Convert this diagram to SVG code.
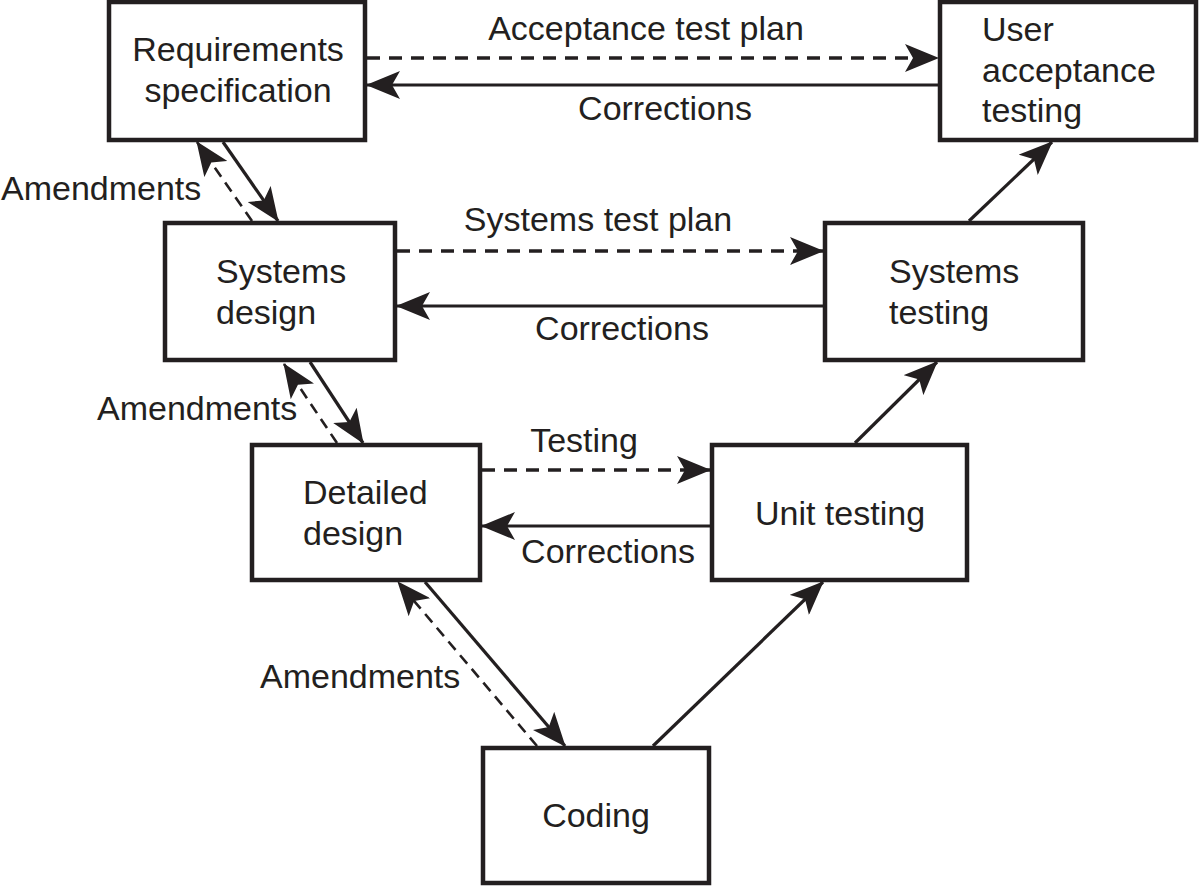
<svg xmlns="http://www.w3.org/2000/svg" width="1200" height="888" viewBox="0 0 1200 888">
<style>
.box{fill:#fff;stroke:#231f20;stroke-width:4.5}
.t{font-family:"Liberation Sans",Arial,sans-serif;font-size:34px;fill:#231f20}
.c{text-anchor:middle}
.solid{stroke:#231f20;stroke-width:3.2;fill:none}
.dash{stroke:#231f20;stroke-width:3.4;fill:none;stroke-dasharray:13 9}
.ddash{stroke:#231f20;stroke-width:2.6;fill:none;stroke-dasharray:11 7}
</style>
<defs>
<marker id="ah" markerUnits="userSpaceOnUse" viewBox="0 0 34 28" markerWidth="34" markerHeight="28" refX="33" refY="14" orient="auto">
<path d="M0,0 L34,14 L0,28 L8,14 Z" fill="#231f20"/>
</marker>
</defs>
<rect width="1200" height="888" fill="#fff"/>
<g id="req">
<rect class="box" x="109" y="2" width="256" height="138"/>
<text class="t c" x="238" y="61">Requirements</text>
<text class="t c" x="238" y="102">specification</text>
</g>
<g id="uat">
<rect class="box" x="940" y="2" width="256" height="138"/>
<text class="t" x="982" y="41">User</text>
<text class="t" x="982" y="82">acceptance</text>
<text class="t" x="982" y="122">testing</text>
</g>
<g id="sysdesign">
<rect class="box" x="165" y="223" width="230" height="137"/>
<text class="t" x="216" y="283">Systems</text>
<text class="t" x="216" y="324">design</text>
</g>
<g id="systest">
<rect class="box" x="825" y="223" width="258" height="137"/>
<text class="t" x="889" y="283">Systems</text>
<text class="t" x="889" y="324">testing</text>
</g>
<g id="detailed">
<rect class="box" x="252" y="445" width="228" height="135"/>
<text class="t" x="303" y="504">Detailed</text>
<text class="t" x="303" y="545">design</text>
</g>
<g id="unit">
<rect class="box" x="712" y="445" width="255" height="135"/>
<text class="t c" x="840" y="525">Unit testing</text>
</g>
<g id="coding">
<rect class="box" x="483" y="748" width="226" height="135"/>
<text class="t c" x="596" y="827">Coding</text>
</g>
<g id="connectors">
<line class="dash" x1="367" y1="58" x2="938" y2="58" marker-end="url(#ah)"/>
<line class="solid" x1="938" y1="85" x2="367" y2="85" marker-end="url(#ah)"/>
<line class="dash" x1="397" y1="251" x2="823" y2="251" marker-end="url(#ah)"/>
<line class="solid" x1="823" y1="306" x2="397" y2="306" marker-end="url(#ah)"/>
<line class="dash" x1="482" y1="470" x2="710" y2="470" marker-end="url(#ah)"/>
<line class="solid" x1="710" y1="526" x2="482" y2="526" marker-end="url(#ah)"/>
<line class="solid" x1="223" y1="142" x2="278" y2="221" marker-end="url(#ah)"/>
<line class="ddash" x1="252" y1="221" x2="197" y2="142" marker-end="url(#ah)"/>
<line class="solid" x1="310" y1="362" x2="363" y2="443" marker-end="url(#ah)"/>
<line class="ddash" x1="337" y1="443" x2="284" y2="364" marker-end="url(#ah)"/>
<line class="solid" x1="425" y1="582" x2="565" y2="746" marker-end="url(#ah)"/>
<line class="ddash" x1="537" y1="746" x2="398" y2="582" marker-end="url(#ah)"/>
<line class="solid" x1="653" y1="746" x2="823" y2="582" marker-end="url(#ah)"/>
<line class="solid" x1="855" y1="443" x2="937" y2="362" marker-end="url(#ah)"/>
<line class="solid" x1="969" y1="221" x2="1052" y2="142" marker-end="url(#ah)"/>
</g>
<g id="labels">
<text class="t c" x="646" y="40">Acceptance test plan</text>
<text class="t c" x="665" y="120">Corrections</text>
<text class="t" x="1" y="200">Amendments</text>
<text class="t c" x="598" y="231">Systems test plan</text>
<text class="t c" x="622" y="340">Corrections</text>
<text class="t" x="97" y="420">Amendments</text>
<text class="t c" x="584" y="452">Testing</text>
<text class="t c" x="608" y="563">Corrections</text>
<text class="t" x="260" y="688">Amendments</text>
</g>
</svg>
